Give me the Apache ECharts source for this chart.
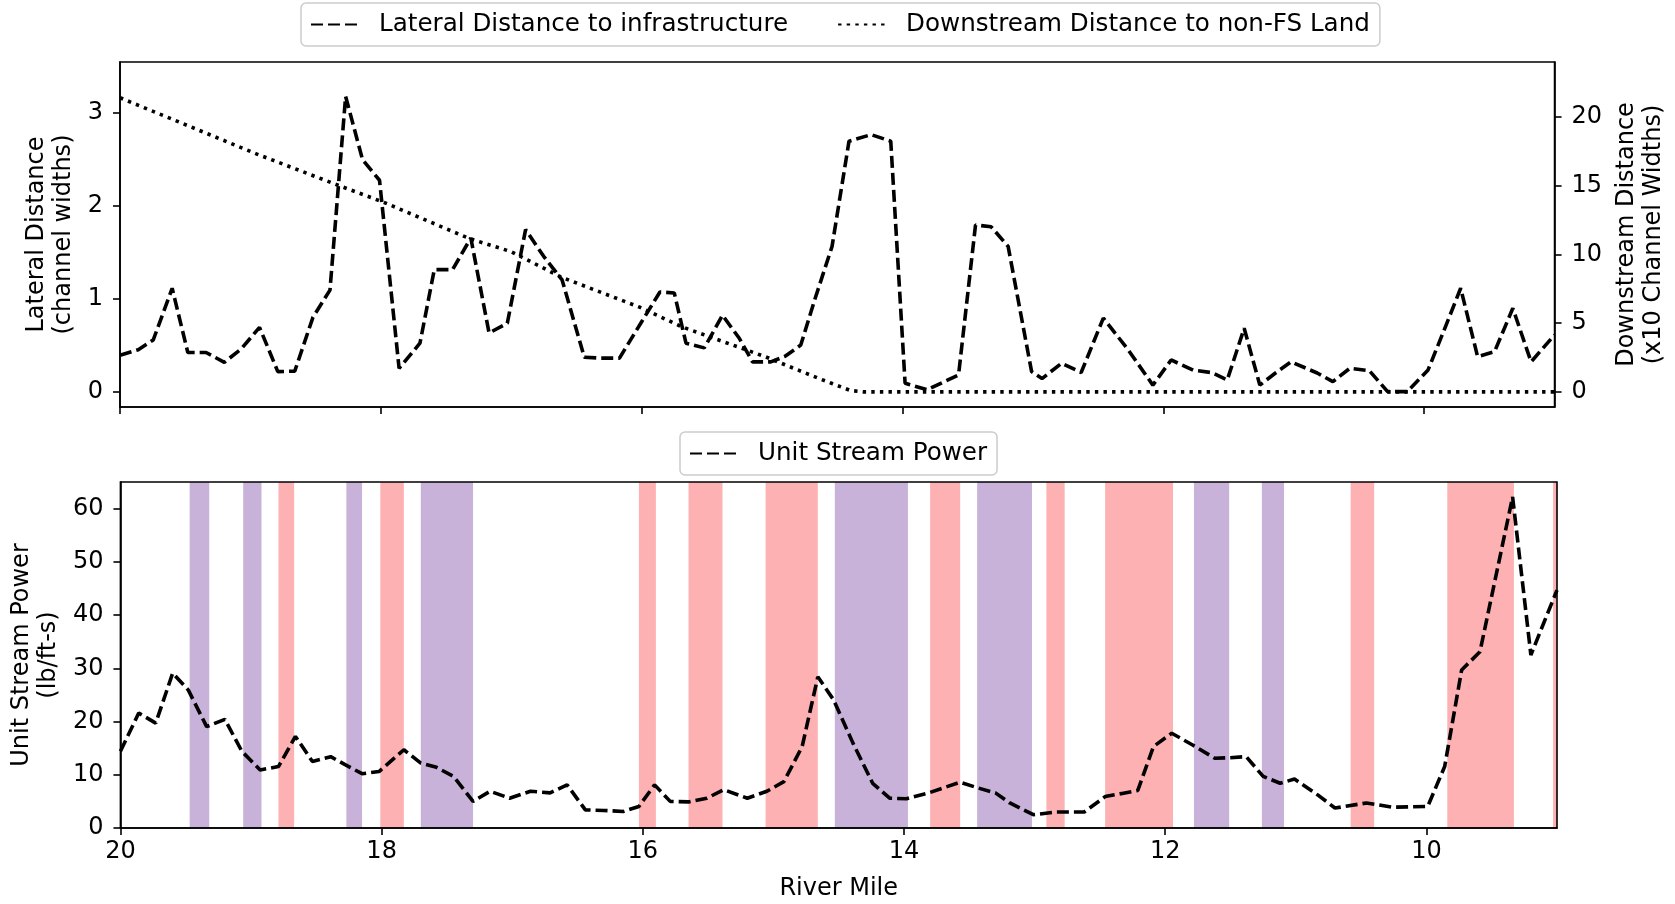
<!DOCTYPE html>
<html>
<head>
<meta charset="utf-8">
<script src="https://cdn.jsdelivr.net/npm/echarts@6/dist/echarts.min.js"></script>
<style>
html,body{margin:0;padding:0;background:#fff;}
#chart{width:1675px;height:904px;}
</style>
</head>
<body>
<div id="chart"></div>
<script>
// ---- data ----
var xTicks = [10, 12, 14, 16, 18, 20];
var latTicks = [0, 1, 2, 3];
var dsTicks = [0, 5, 10, 15, 20];
var uspTicks = [0, 10, 20, 30, 40, 50, 60];

var latMiles = [20.00,19.86,19.745,19.60,19.48,19.34,19.20,19.07,18.93,18.79,18.66,18.52,18.39,18.27,18.14,18.01,17.86,17.70,17.59,17.45,17.31,17.17,17.03,16.89,16.75,16.61,16.44,16.31,16.17,16.00,15.86,15.75,15.66,15.52,15.38,15.25,15.15,15.01,14.90,14.78,14.67,14.54,14.41,14.24,14.09,13.98,13.81,13.69,13.57,13.44,13.32,13.19,13.01,12.93,12.78,12.63,12.46,12.27,12.08,11.94,11.77,11.63,11.51,11.38,11.26,11.14,11.02,10.82,10.70,10.57,10.42,10.28,10.13,9.97,9.85,9.72,9.59,9.46,9.32,9.18,9.00];
var latValues = [0.39,0.45,0.555,1.11,0.42,0.42,0.315,0.46,0.69,0.215,0.22,0.80,1.09,3.17,2.49,2.27,0.25,0.52,1.31,1.31,1.65,0.63,0.735,1.74,1.45,1.20,0.37,0.36,0.36,0.75,1.07,1.06,0.52,0.47,0.82,0.57,0.32,0.32,0.38,0.50,1.0,1.56,2.69,2.76,2.69,0.09,0.02,0.10,0.18,1.79,1.77,1.56,0.215,0.14,0.305,0.205,0.79,0.45,0.07,0.34,0.23,0.205,0.125,0.68,0.07,0.20,0.32,0.20,0.107,0.25,0.225,0.0,0.0,0.233,0.65,1.11,0.376,0.43,0.895,0.32,0.61];

var dsMiles = [20.0,18.95,18.36,17.98,17.32,17.0,16.62,16.02,15.69,15.05,14.64,14.54,14.40,14.30,9.0];
var dsValues = [21.4,17.3,15.15,13.8,11.15,10.2,8.36,6.18,4.73,2.55,0.97,0.61,0.1,0.0,0.0];

var uspMiles = [20.00,19.86,19.73,19.60,19.48,19.34,19.20,19.07,18.93,18.79,18.66,18.53,18.39,18.28,18.15,18.02,17.83,17.70,17.58,17.45,17.30,17.17,17.02,16.86,16.71,16.58,16.44,16.30,16.15,16.03,15.91,15.79,15.65,15.51,15.38,15.20,15.05,14.92,14.78,14.66,14.54,14.39,14.24,14.11,13.98,13.81,13.57,13.43,13.30,13.19,13.01,12.83,12.62,12.46,12.33,12.21,12.09,11.95,11.79,11.62,11.51,11.38,11.25,11.12,11.01,10.82,10.70,10.46,10.26,9.99,9.86,9.73,9.59,9.34,9.20,9.00];
var uspValues = [14.4,21.6,19.7,29.1,25.9,19.05,20.4,14.4,10.9,11.55,17.2,12.5,13.4,11.9,10.2,10.6,14.7,12.2,11.4,9.7,5.0,6.9,5.6,6.9,6.6,8.1,3.4,3.3,3.1,4.05,8.1,5.0,4.9,5.6,7.2,5.6,6.9,8.7,15.3,28.4,24.1,15.9,8.4,5.6,5.5,6.6,8.6,7.5,6.6,4.7,2.5,3.0,3.0,5.9,6.5,7.05,15.3,17.8,15.6,13.1,13.2,13.4,9.7,8.4,9.2,6.0,3.75,4.7,3.9,4.05,11.55,29.7,33.1,62.2,32.5,44.7];

var bandStart = [19.47,19.06,18.79,18.27,18.01,17.70,16.03,15.65,15.06,14.53,13.80,13.44,12.91,12.46,11.78,11.26,10.58,9.84,9.03];
var bandEnd   = [19.32,18.92,18.67,18.15,17.83,17.30,15.90,15.39,14.66,13.97,13.57,13.02,12.77,11.94,11.51,11.09,10.40,9.33,9.00];
var bandKind  = ['p','p','r','p','r','p','r','r','r','p','r','p','r','r','p','p','r','r','r'];

// ---- build ----
var FONT = 'DejaVu Sans';
var FS = 24;
var bandColor = {p: '#C8B2D9', r: '#FDB1B2'};
function pairs(xs, ys){ return xs.map(function(x,i){ return [x, ys[i]]; }); }
var bands = bandStart.map(function(s,i){
  return [{xAxis: s, itemStyle: {color: bandColor[bandKind[i]], opacity: 1}}, {xAxis: bandEnd[i]}];
});

var axisLineStyle = {show: true, onZero: false, lineStyle: {color: '#000', width: 1.6}};
function tickCfg(vals){ return {show: true, inside: false, length: 7, lineStyle: {color: '#000', width: 1.6}, customValues: vals}; }
function labelCfg(vals, margin){ return {show: true, color: '#000', fontSize: FS, fontFamily: FONT, margin: margin, customValues: vals}; }
var nameStyle = {color: '#000', fontSize: FS, fontFamily: FONT, lineHeight: 27};

var LW = 3.6;
var dashed = [12, 5];
var dotted = [3.4, 5.2];

var legendBase = {
  itemWidth: 48, itemHeight: 14, orient: 'horizontal',
  padding: [9, 10, 9, 9], borderColor: '#cccccc', borderWidth: 1.5, borderRadius: 5, backgroundColor: '#fff',
  itemStyle: {opacity: 0},
  textStyle: {color: '#000', fontSize: 24.6, fontFamily: FONT, padding: [0, 0, 0, 15]}
};

var chart = echarts.init(document.getElementById('chart'), null, {renderer: 'canvas'});
chart.setOption({
  animation: false,
  backgroundColor: '#fff',
  textStyle: {fontFamily: FONT},
  grid: [
    {left: 120, right: 118, top: 62, height: 345, show: true, borderColor: '#000', borderWidth: 1.6, z: 10},
    {left: 120, right: 118, top: 482, height: 346, show: true, borderColor: '#000', borderWidth: 1.6, z: 10}
  ],
  legend: [
    Object.assign({}, legendBase, {data: ['Lateral Distance to infrastructure', 'Downstream Distance to non-FS Land'],
      left: 301, top: 3, itemGap: 49}),
    Object.assign({}, legendBase, {data: ['Unit Stream Power'], left: 680, top: 432})
  ],
  xAxis: [
    {gridIndex: 0, type: 'value', min: 9, max: 20, inverse: true, z: 10,
     axisLine: axisLineStyle, axisTick: tickCfg(xTicks), axisLabel: {show: false}, splitLine: {show: false}},
    {gridIndex: 1, type: 'value', min: 9, max: 20, inverse: true, z: 10,
     axisLine: axisLineStyle, axisTick: tickCfg(xTicks), axisLabel: labelCfg(xTicks, 12), splitLine: {show: false},
     name: 'River Mile', nameLocation: 'middle', nameGap: 47, nameTextStyle: nameStyle}
  ],
  yAxis: [
    {gridIndex: 0, type: 'value', position: 'left', min: -0.165, max: 3.54, z: 10,
     axisLine: axisLineStyle, axisTick: tickCfg(latTicks), axisLabel: labelCfg(latTicks, 17), splitLine: {show: false},
     name: 'Lateral Distance\n(channel widths)', nameLocation: 'middle', nameGap: 42, nameTextStyle: nameStyle},
    {gridIndex: 0, type: 'value', position: 'right', min: -1.1, max: 24, z: 10,
     axisLine: axisLineStyle, axisTick: tickCfg(dsTicks), axisLabel: labelCfg(dsTicks, 17), splitLine: {show: false},
     name: 'Downstream Distance\n(x10 Channel Widths)', nameLocation: 'middle', nameGap: 56, nameTextStyle: nameStyle},
    {gridIndex: 1, type: 'value', position: 'left', min: 0, max: 65, z: 10,
     axisLine: axisLineStyle, axisTick: tickCfg(uspTicks), axisLabel: labelCfg(uspTicks, 17), splitLine: {show: false},
     name: 'Unit Stream Power\n(lb/ft-s)', nameLocation: 'middle', nameGap: 55, nameTextStyle: nameStyle}
  ],
  series: [
    {name: 'Lateral Distance to infrastructure', type: 'line', xAxisIndex: 0, yAxisIndex: 0,
     data: pairs(latMiles, latValues), symbol: 'none', z: 3,
     lineStyle: {color: '#000', width: LW, type: dashed}, itemStyle: {color: '#000'}},
    {name: 'Downstream Distance to non-FS Land', type: 'line', xAxisIndex: 0, yAxisIndex: 1,
     data: pairs(dsMiles, dsValues), symbol: 'none', z: 3,
     lineStyle: {color: '#000', width: LW, type: dotted}, itemStyle: {color: '#000'}},
    {name: 'bands', type: 'line', xAxisIndex: 1, yAxisIndex: 2, data: [], symbol: 'none', z: 1,
     markArea: {silent: true, data: bands}},
    {name: 'Unit Stream Power', type: 'line', xAxisIndex: 1, yAxisIndex: 2,
     data: pairs(uspMiles, uspValues), symbol: 'none', z: 3,
     lineStyle: {color: '#000', width: LW, type: dashed}, itemStyle: {color: '#000'}}
  ]
});
</script>
</body>
</html>
